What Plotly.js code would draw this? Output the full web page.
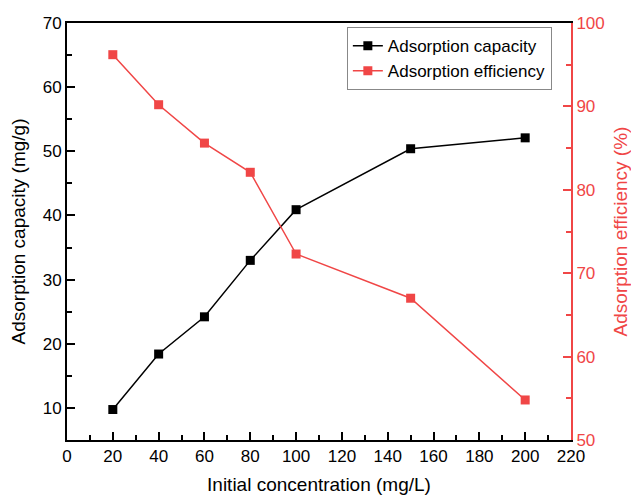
<!DOCTYPE html>
<html>
<head>
<meta charset="utf-8">
<script src="https://cdn.plot.ly/plotly-3.0.1.min.js"></script>
<style>
  html, body { margin: 0; padding: 0; background: #fff; }
  #chart { width: 631px; height: 495px; }
</style>
</head>
<body>
<div id="chart"></div>
<script>
// Initial concentration (mg/L)
const concentration = [20, 40, 60, 80, 100, 150, 200];
// Adsorption capacity (mg/g)
const capacity = [9.75, 18.4, 24.2, 33.0, 40.9, 50.4, 52.1];
// Adsorption efficiency (%)
const efficiency = [96.2, 90.2, 85.6, 82.1, 72.3, 67.0, 54.8];

const RED = '#F04646';
const FONT = 'Liberation Sans, Arial, sans-serif';

const traces = [
  {
    x: concentration, y: capacity, name: 'Adsorption capacity',
    type: 'scatter', mode: 'lines+markers',
    line: { color: '#000', width: 1.5 },
    marker: { symbol: 'square', size: 9, color: '#000' },
    yaxis: 'y'
  },
  {
    x: concentration, y: efficiency, name: 'Adsorption efficiency',
    type: 'scatter', mode: 'lines+markers',
    line: { color: RED, width: 1.5 },
    marker: { symbol: 'square', size: 9, color: RED },
    yaxis: 'y2'
  }
];

const layout = {
  width: 631, height: 495,
  margin: { l: 67, r: 60, t: 23, b: 55 },
  paper_bgcolor: '#fff', plot_bgcolor: '#fff',
  font: { family: FONT, size: 17, color: '#000' },
  showlegend: true,
  legend: {
    x: 0.962, y: 0.99, xanchor: 'right', yanchor: 'top',
    bgcolor: '#fff', bordercolor: '#888', borderwidth: 1,
    font: { family: FONT, size: 17, color: '#000' },
    tracegroupgap: 0, itemwidth: 30
  },
  xaxis: {
    range: [0, 220], dtick: 20, tick0: 0,
    showline: true, linecolor: '#000', linewidth: 2, mirror: true,
    ticks: 'inside', ticklen: 8, tickwidth: 2, tickcolor: '#000',
    minor: { ticks: 'inside', ticklen: 5, tickwidth: 2, dtick: 10, tickcolor: '#000' },
    showgrid: false, zeroline: false,
    tickfont: { family: FONT, size: 17, color: '#000' },
    title: { text: 'Initial concentration (mg/L)', font: { family: FONT, size: 19, color: '#000' }, standoff: 12 }
  },
  yaxis: {
    range: [5, 70], dtick: 10, tick0: 0,
    showline: true, linecolor: '#000', linewidth: 2,
    ticks: 'inside', ticklen: 8, tickwidth: 2, tickcolor: '#000',
    minor: { ticks: 'inside', ticklen: 5, tickwidth: 2, dtick: 5, tickcolor: '#000' },
    showgrid: false, zeroline: false,
    tickfont: { family: FONT, size: 17, color: '#000' },
    title: { text: 'Adsorption capacity (mg/g)', font: { family: FONT, size: 19, color: '#000' }, standoff: 12 }
  },
  yaxis2: {
    overlaying: 'y', side: 'right',
    range: [50, 100], dtick: 10, tick0: 0,
    showline: true, linecolor: RED, linewidth: 2,
    ticks: 'inside', ticklen: 8, tickwidth: 2, tickcolor: RED,
    minor: { ticks: 'inside', ticklen: 5, tickwidth: 2, dtick: 5, tickcolor: RED },
    showgrid: false, zeroline: false,
    tickfont: { family: FONT, size: 17, color: RED },
    title: { text: 'Adsorption efficiency (%)', font: { family: FONT, size: 19, color: RED }, standoff: 12 }
  }
};

Plotly.newPlot('chart', traces, layout, { displayModeBar: false, staticPlot: true });
</script>
</body>
</html>
